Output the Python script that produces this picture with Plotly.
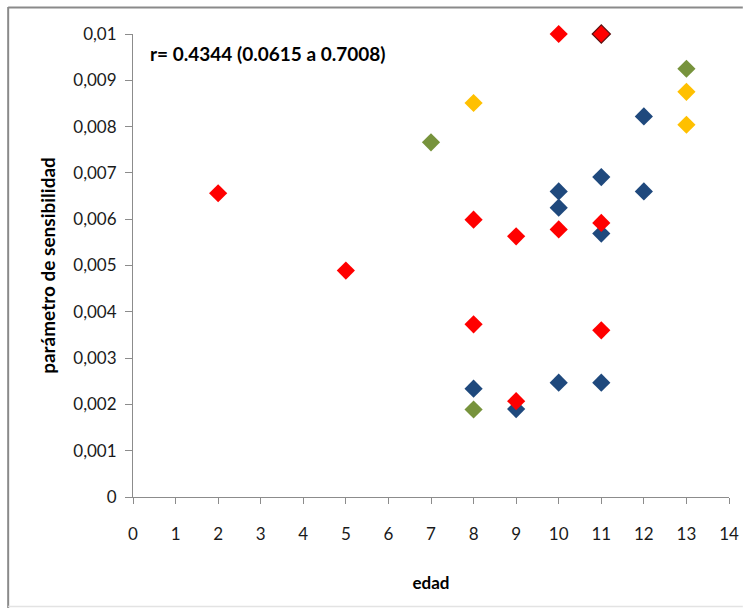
import plotly.graph_objects as go

# Data
red_x = [2, 5, 8, 8, 9, 9, 10, 10, 11, 11]
red_y = [0.00656, 0.00489, 0.00599, 0.00373, 0.00563, 0.00207, 0.01, 0.00578, 0.00592, 0.00360]
red_outlined_x = [11]
red_outlined_y = [0.01]
blue_x = [8, 9, 10, 10, 10, 11, 11, 11, 12, 12]
blue_y = [0.00234, 0.00190, 0.00660, 0.00625, 0.00247, 0.00691, 0.00569, 0.00247, 0.00822, 0.00660]
green_x = [7, 8, 13]
green_y = [0.00766, 0.00189, 0.00925]
yellow_x = [8, 13, 13]
yellow_y = [0.00851, 0.00875, 0.00804]

x_ticks = list(range(0, 15))
y_tick_vals = [0, 0.001, 0.002, 0.003, 0.004, 0.005, 0.006, 0.007, 0.008, 0.009, 0.01]
y_tick_text = ["0", "0,001", "0,002", "0,003", "0,004", "0,005", "0,006", "0,007", "0,008", "0,009", "0,01"]
annotation_text = "r= 0.4344 (0.0615 a 0.7008)"
x_title = "edad"
y_title = "parámetro de sensibilidad"

FONT = "Lato, Open Sans, sans-serif"
MSIZE = 14

fig = go.Figure()

def add(xs, ys, color, line_color=None, line_width=0):
    fig.add_trace(go.Scatter(
        x=xs, y=ys, mode="markers", cliponaxis=False,
        marker=dict(symbol="diamond", size=MSIZE, color=color,
                    line=dict(color=line_color or color, width=line_width)),
        showlegend=False, hoverinfo="x+y"))

add(green_x, green_y, "#77933C")
add(yellow_x, yellow_y, "#FFC000")
add(blue_x, blue_y, "#1F497D")
add(red_x, red_y, "#FF0000")
add(red_outlined_x, red_outlined_y, "#FF0000", "#5a1010", 1.2)

W, H = 751, 608
L, R, T, B = 133, 14, 34, 111
pw = W - L - R
ph = H - T - B

def px_x(p):
    return (p - L) / pw

def px_y(p):
    return (H - B - p) / ph

fig.update_layout(
    width=W, height=H,
    margin=dict(l=L, r=R, t=T, b=B),
    paper_bgcolor="white", plot_bgcolor="white",
    font=dict(family=FONT, size=16, color="#1a1a1a"),
    xaxis=dict(
        range=[0, 14], tickvals=x_ticks, ticktext=[str(v) for v in x_ticks],
        showgrid=False, zeroline=False, showline=True, linecolor="#8c8c8c", linewidth=1,
        ticks="outside", ticklen=6, tickcolor="#8c8c8c", ticklabelstandoff=16,
        tickfont=dict(size=17, family=FONT, color="#1a1a1a"),
        title=dict(text="<b>" + x_title + "</b>", font=dict(size=17, family=FONT, color="#000"), standoff=33),
        fixedrange=True,
    ),
    yaxis=dict(
        range=[0, 0.01], tickvals=y_tick_vals, ticktext=y_tick_text,
        showgrid=False, zeroline=False, showline=True, linecolor="#8c8c8c", linewidth=1,
        ticks="outside", ticklen=7, tickcolor="#8c8c8c", ticklabelstandoff=5,
        tickfont=dict(size=17, family=FONT, color="#1a1a1a"),
        title=dict(text="<b>" + y_title + "</b>", font=dict(size=19, family=FONT, color="#000"), standoff=12),
        fixedrange=True,
    ),
    annotations=[dict(
        text="<b>" + annotation_text + "</b>", xref="paper", yref="paper",
        x=px_x(148), y=px_y(53), xanchor="left", yanchor="middle", showarrow=False,
        font=dict(size=19, family=FONT, color="#000"))],
    shapes=[
        dict(type="line", xref="paper", yref="paper", x0=px_x(6.5), x1=px_x(751), y0=px_y(7.5), y1=px_y(7.5),
             line=dict(color="#8a8a8a", width=2)),
        dict(type="line", xref="paper", yref="paper", x0=px_x(6.5), x1=px_x(6.5), y0=px_y(7), y1=px_y(608),
             line=dict(color="#8a8a8a", width=2)),
        dict(type="line", xref="paper", yref="paper", x0=px_x(6.5), x1=px_x(751), y0=px_y(606.5), y1=px_y(606.5),
             line=dict(color="#e3e3e3", width=1.5)),
    ],
)

fig.write_html("out.html", config={"displayModeBar": False},
               post_script="document.body.style.margin='0';document.body.style.overflow='hidden';")
